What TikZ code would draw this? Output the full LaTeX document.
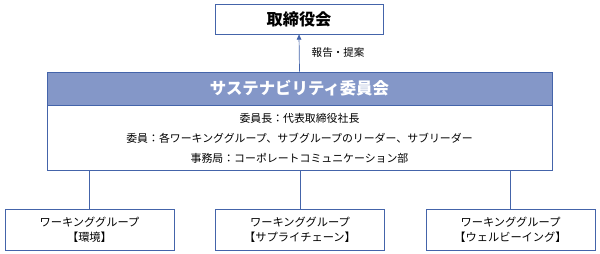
\documentclass[tikz,border=0pt]{standalone}
\usepackage{fontspec}
\setmainfont{Noto Sans CJK JP}
\usetikzlibrary{arrows.meta,calc,positioning}
\definecolor{frameblue}{RGB}{68,100,170}
\definecolor{headerblue}{RGB}{132,151,200}
\tikzset{
    org chart/.style = {>={Triangle[length=1.6mm, width=1.4mm]}},
    line/.style      = {draw=frameblue, semithick},
    box/.style       = {draw=frameblue, semithick, fill=white, align=center},
    board/.style     = {box, minimum width=5.04cm, minimum height=0.9cm,
                        font=\fontsize{13.8}{15}\selectfont\bfseries},
    header/.style    = {box, fill=headerblue, text=white,
                        minimum width=15.15cm, minimum height=0.99cm,
                        font=\fontsize{14}{15}\selectfont\bfseries},
    members/.style   = {box, minimum width=15.15cm, minimum height=1.95cm,
                        font=\fontsize{9.3}{17}\selectfont},
    group/.style     = {box, minimum width=5.07cm, minimum height=1.23cm,
                        font=\fontsize{9.6}{12.5}\selectfont},
    note/.style      = {font=\fontsize{9}{10}\selectfont}
}
\def\grouprow{0.735}

\begin{document}
\begin{tikzpicture}[org chart]
\useasboundingbox (0,0) rectangle (18,7.62);

% Board of directors on top.
\node[board] (board) at (8.97,7.05) {取締役会};

% Sustainability committee: coloured title band over the member list.
\node[header] (committee) at (8.985,4.965) {サステナビリティ委員会};
\node[members, below=0pt of committee] (members)
    {委員長：代表取締役社長\\
     委員：各ワーキンググループ、サブグループのリーダー、サブリーダー\\
     事務局：コーポレートコミュニケーション部};
\draw[->, line] (committee.north) -- (board.south)
    node[note, midway, right=7pt] {報告・提案};

% Working groups below.
\node[group] (environment) at (2.685,\grouprow)
    {ワーキンググループ\\【環境】};
\node[group] (supply) at (9.0,\grouprow)
    {ワーキンググループ\\【サプライチェーン】};
\node[group] (wellbeing) at (15.315,\grouprow)
    {ワーキンググループ\\【ウェルビーイング】};
\foreach \wg in {environment,supply,wellbeing}
    \draw[line] (members.south -| \wg.north) -- (\wg.north);

\end{tikzpicture}
\end{document}
